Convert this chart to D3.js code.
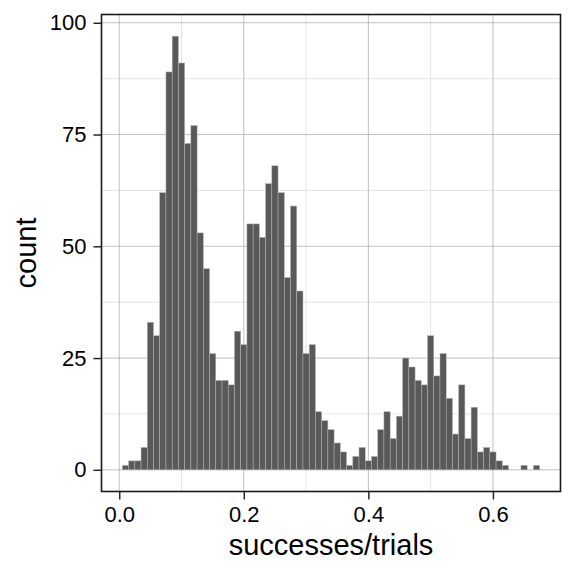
<!DOCTYPE html>
<html>
<head>
<meta charset="utf-8">
<script src="https://cdn.jsdelivr.net/npm/d3@7"></script>
<style>
  html, body { margin: 0; padding: 0; background: #fff; }
  text { font-family: "Liberation Sans", Arial, Helvetica, sans-serif; fill: #000; }
</style>
</head>
<body>
<div id="chart"></div>
<script>
(function() {
    // bin centres (successes/trials), width 0.01
    var binCenters = d3.range(1, 68).map(function(i) { return i / 100; });
    var binWidth = 0.01;
    var counts = [
        1, 2, 2, 5, 33, 30, 62, 89, 97, 91,
        73, 77, 53, 45, 26, 20, 20, 19, 31, 28,
        55, 55, 52, 64, 68, 62, 43, 59, 40, 26,
        28, 13, 11, 9, 6, 4, 1, 3, 5, 2,
        3, 9, 13, 7, 12, 25, 23, 20, 19, 30,
        21, 26, 16, 8, 19, 7, 14, 4, 5, 4,
        2, 1, 0, 0, 1, 0, 1
    ];
    var xTicks = [0, 0.2, 0.4, 0.6];
    var xTickLabels = ['0.0', '0.2', '0.4', '0.6'];
    var yTicks = [0, 25, 50, 75, 100];
    var xMinor = [0.1, 0.3, 0.5];
    var yMinor = [12.5, 37.5, 62.5, 87.5];

    var width = 576, height = 576;
    var panel = { left: 101.5, right: 560.5, top: 14.5, bottom: 491.5 };

    var xLo = binCenters[0] - binWidth / 2,
        xHi = binCenters[binCenters.length - 1] + binWidth / 2;
    var xPad = (xHi - xLo) * 0.05;
    var yMax = d3.max(counts), yPad = yMax * 0.05;

    var x = d3.scaleLinear()
        .domain([xLo - xPad, xHi + xPad])
        .range([panel.left, panel.right]);
    var y = d3.scaleLinear()
        .domain([-yPad, yMax + yPad])
        .range([panel.bottom, panel.top]);

    var svg = d3.select('#chart')
        .append('svg')
            .attr('width', width)
            .attr('height', height);

    var pw = panel.right - panel.left, ph = panel.bottom - panel.top;

    // minor grid
    svg.append('g')
        .selectAll('line.vminor')
        .data(xMinor)
        .enter().append('line')
            .attr('x1', function(d) { return x(d); })
            .attr('x2', function(d) { return x(d); })
            .attr('y1', panel.top).attr('y2', panel.bottom)
            .attr('stroke', '#d9d9d9').attr('stroke-width', 0.7);
    svg.append('g')
        .selectAll('line.hminor')
        .data(yMinor)
        .enter().append('line')
            .attr('y1', function(d) { return y(d); })
            .attr('y2', function(d) { return y(d); })
            .attr('x1', panel.left).attr('x2', panel.right)
            .attr('stroke', '#d9d9d9').attr('stroke-width', 0.7);

    // major grid
    svg.append('g')
        .selectAll('line')
        .data(xTicks)
        .enter().append('line')
            .attr('x1', function(d) { return x(d); })
            .attr('x2', function(d) { return x(d); })
            .attr('y1', panel.top).attr('y2', panel.bottom)
            .attr('stroke', '#a6a6a6').attr('stroke-width', 0.7);
    svg.append('g')
        .selectAll('line')
        .data(yTicks)
        .enter().append('line')
            .attr('y1', function(d) { return y(d); })
            .attr('y2', function(d) { return y(d); })
            .attr('x1', panel.left).attr('x2', panel.right)
            .attr('stroke', '#a6a6a6').attr('stroke-width', 0.7);

    // bars
    var bars = binCenters.map(function(c, i) { return { c: c, n: counts[i] }; })
        .filter(function(d) { return d.n > 0; });
    svg.append('g')
        .selectAll('rect')
        .data(bars)
        .enter().append('rect')
            .attr('x', function(d) { return x(d.c - binWidth / 2); })
            .attr('width', function(d) { return x(d.c + binWidth / 2) - x(d.c - binWidth / 2); })
            .attr('y', function(d) { return y(d.n); })
            .attr('height', function(d) { return y(0) - y(d.n); })
            .attr('fill', '#595959')
            .attr('stroke', '#b3b3b3')
            .attr('stroke-width', 0.5);

    // panel border
    svg.append('rect')
        .attr('x', panel.left).attr('y', panel.top)
        .attr('width', pw).attr('height', ph)
        .attr('fill', 'none')
        .attr('stroke', '#1a1a1a')
        .attr('stroke-width', 1.6);

    // axes
    var xAxis = d3.axisBottom(x)
        .tickValues(xTicks)
        .tickFormat(function(d, i) { return xTickLabels[i]; })
        .tickSize(8).tickPadding(7);
    var gx = svg.append('g')
        .attr('transform', 'translate(0,' + panel.bottom + ')')
        .call(xAxis);
    var yAxis = d3.axisLeft(y)
        .tickValues(yTicks)
        .tickSize(8).tickPadding(7);
    var gy = svg.append('g')
        .attr('transform', 'translate(' + panel.left + ',0)')
        .call(yAxis);
    [gx, gy].forEach(function(g) {
        g.select('.domain').remove();
        g.selectAll('.tick line').attr('stroke', '#1a1a1a').attr('stroke-width', 1.4);
        g.selectAll('.tick text')
            .attr('font-size', 22)
            .attr('font-family', '"Liberation Sans", Arial, sans-serif')
            .attr('fill', '#000');
    });

    // titles
    svg.append('text')
        .attr('x', (panel.left + panel.right) / 2)
        .attr('y', 555)
        .attr('text-anchor', 'middle')
        .attr('font-size', 29)
        .text('successes/trials');
    svg.append('text')
        .attr('transform', 'translate(36,' + (panel.top + panel.bottom) / 2 + ') rotate(-90)')
        .attr('text-anchor', 'middle')
        .attr('font-size', 29)
        .text('count');
})();
</script>
</body>
</html>
